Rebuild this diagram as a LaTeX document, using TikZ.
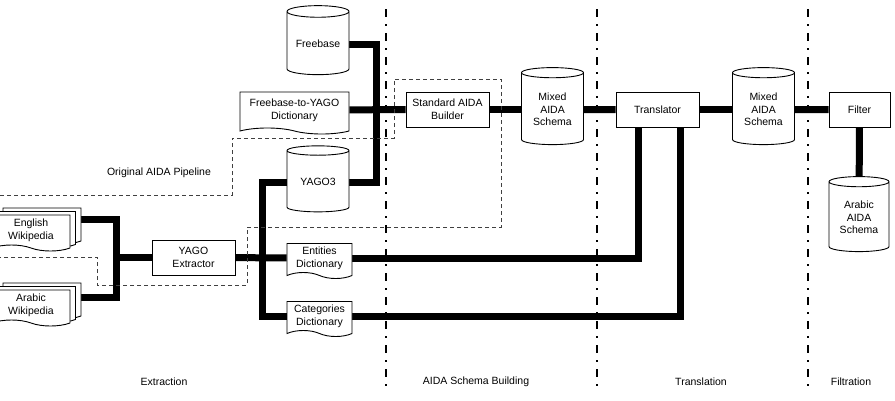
\documentclass[tikz,border=0pt]{standalone}
\usepackage{fontspec}
\setmainfont{Liberation Sans}
\usetikzlibrary{shapes.geometric, shapes.symbols, shadows, backgrounds}
\newcommand\diafont{\fontsize{10.5}{12.7}\selectfont}
\tikzset{
  % process boxes
  procbox/.style={
    rectangle, draw, fill=white, line width=0.9pt,
    minimum width=83pt, minimum height=35pt, align=center, inner sep=1pt
  },
  % data stores (cylinders)
  store/.style={
    cylinder, shape border rotate=90, aspect=0.25, draw, fill=white,
    line width=0.9pt, minimum width=62pt, minimum height=69pt,
    align=center, inner sep=1pt
  },
  % documents with a wavy bottom
  doc/.style={
    tape, tape bend top=none, tape bend bottom=out and in,
    tape bend height=6pt, draw, fill=white, line width=0.9pt,
    align=center, inner sep=1pt
  },
  docstack/.style={
    doc,
    copy shadow={shadow xshift=11pt, shadow yshift=7pt},
    copy shadow={shadow xshift=5.5pt, shadow yshift=3.5pt}
  },
  % thick data flow
  pipe/.style={line width=7pt},
  % stage separators
  stagesep/.style={line width=2pt, dash pattern=on 8pt off 7pt on 2pt off 7pt},
  % original pipeline outline
  pipeline/.style={line width=1pt, black!75, dash pattern=on 4pt off 3pt},
}

\begin{document}
\begin{tikzpicture}[x=1pt, y=-1pt, every node/.style={font=\diafont}]
  \useasboundingbox (0,0) rectangle (895,400);

  %% -- sources -------------------------------------------------------------
  \node[docstack, minimum width=78pt, minimum height=36pt] (eng) at (31,230) {English\\Wikipedia};
  \node[docstack, minimum width=78pt, minimum height=36pt] (ara) at (31,305) {Arabic\\Wikipedia};
  \node[procbox] (extr) at (193.5,257.5) {YAGO\\Extractor};

  %% -- knowledge bases -----------------------------------------------------
  \node[store] (free) at (318,44) {Freebase};
  \node[doc, minimum width=109pt, minimum height=42pt] (dict) at (294.5,110) {Freebase-to-YAGO\\Dictionary};
  \node[store, minimum height=66pt] (yago) at (318,182) {YAGO3};
  \node[doc, minimum width=65pt, minimum height=35pt] (ent) at (319.5,258) {Entities\\Dictionary};
  \node[doc, minimum width=65pt, minimum height=35pt] (cat) at (319.5,316) {Categories\\Dictionary};

  %% -- schema building / translation / filtration --------------------------
  \node[procbox] (build) at (447.5,109.5) {Standard AIDA\\Builder};
  \node[store, minimum height=77pt] (mix1) at (552.5,109.5) {Mixed\\AIDA\\Schema};
  \node[procbox] (trans) at (657.5,109.5) {Translator};
  \node[store, minimum height=77pt] (mix2) at (763.5,109.5) {Mixed\\AIDA\\Schema};
  \node[procbox, minimum width=61pt] (filt) at (859.5,109.5) {Filter};
  \node[store, minimum width=60pt, minimum height=75pt] (arab) at (859,217.5) {Arabic\\AIDA\\Schema};

  %% -- junctions -----------------------------------------------------------
  \coordinate (jnWiki) at (116,257.5);
  \coordinate (jnYago) at (262,257.5);
  \coordinate (jnFree) at (376,109.5);
  \coordinate (tinEnt) at (638.5,109.5);
  \coordinate (tinCat) at (680,109.5);

  %% -- data flow (behind the shapes) ---------------------------------------
  \begin{scope}[on background layer]
    \draw[pipe] ([yshift=11pt]eng.east) -| (jnWiki) |- ([yshift=8pt]ara.east);
    \draw[pipe] (jnWiki) -- (extr);
    \draw[pipe] (extr) -- (ent);
    \draw[pipe] (yago) -| (jnYago) |- (cat);
    \draw[pipe] (free) -| (jnFree) |- (yago);
    \draw[pipe] (dict) -- (build);
    \draw[pipe] (build) -- (mix1);
    \draw[pipe] (mix1) -- (trans);
    \draw[pipe] (trans) -- (mix2);
    \draw[pipe] (mix2) -- (filt);
    \draw[pipe] (filt) -- (arab);
    \draw[pipe] (ent) -| (tinEnt);
    \draw[pipe] (cat) -| (tinCat);
  \end{scope}

  %% -- original AIDA pipeline ----------------------------------------------
  \draw[pipeline] (0,195) -- (232,195) -- (232,138) -- (394,138) -- (394,79)
    -- (501,79) -- (501,227) -- (247,227) -- (247,285) -- (97,285) -- (97,257) -- (0,257);
  \node (orig) at (159,173) {Original AIDA Pipeline};

  %% -- stages --------------------------------------------------------------
  \foreach \sx in {386,597,808}
    \draw[stagesep] (\sx,9) -- (\sx,388);
  \node (stExtr)  at (164,382) {Extraction};
  \node (stBuild) at (476,382) {AIDA Schema Building};
  \node (stTrans) at (701,382) {Translation};
  \node (stFilt)  at (851,382) {Filtration};
\end{tikzpicture}
\end{document}
